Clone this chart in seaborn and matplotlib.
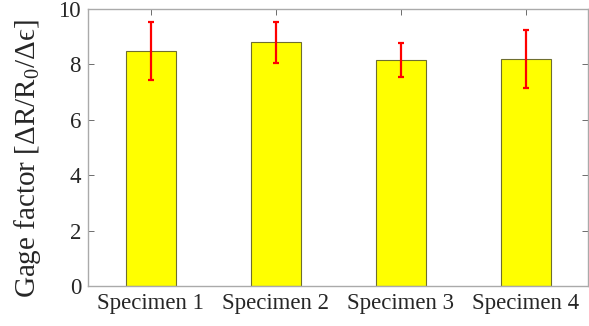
import matplotlib
matplotlib.use("Agg")
import matplotlib.pyplot as plt
import seaborn as sns
import pandas as pd

categories = ["Specimen 1", "Specimen 2", "Specimen 3", "Specimen 4"]
gage_mean = [8.48, 8.81, 8.16, 8.20]
gage_err = [1.05, 0.74, 0.60, 1.05]
yticks = [0, 2, 4, 6, 8, 10]

sns.set_theme(style="white")
plt.rcParams["font.family"] = ["Liberation Serif", "DejaVu Serif"]
plt.rcParams["mathtext.fontset"] = "custom"
plt.rcParams["mathtext.rm"] = "Liberation Serif"
plt.rcParams["mathtext.it"] = "Liberation Serif"
plt.rcParams["mathtext.default"] = "rm"

df = pd.DataFrame({"specimen": categories, "gf": gage_mean})

fig = plt.figure(figsize=(5.89, 3.26), dpi=100)
ax = fig.add_axes([0.1495, 0.123, 0.849, 0.849])

sns.barplot(data=df, x="specimen", y="gf", color="#ffff00", width=0.4,
            edgecolor="#6e6e30", linewidth=0.8, saturation=1, ax=ax, errorbar=None)
ax.errorbar(range(len(categories)), gage_mean, yerr=gage_err, fmt="none",
            ecolor="#ff0000", elinewidth=1.6, capsize=2.5, capthick=1.6, zorder=5)

ax.set_xlim(-0.5, 3.5)
ax.set_ylim(0, 10)
ax.set_yticks(yticks)
ax.set_xlabel("")
ax.set_ylabel("Gage factor [ΔR/R$_0$/Δϵ]", fontsize=21, color="#262626",
              family=["Liberation Serif", "DejaVu Serif"])
ax.yaxis.set_label_coords(-0.09, 0.46)
ax.tick_params(axis="both", labelsize=16.5, labelcolor="#262626", direction="in",
               length=4, width=0.6, color="#555555", top=True, right=True,
               left=True, bottom=True, pad=5)
for s in ax.spines.values():
    s.set_color("#aaaaaa")
    s.set_linewidth(1.0)

fig.savefig("out.png", dpi=100)
